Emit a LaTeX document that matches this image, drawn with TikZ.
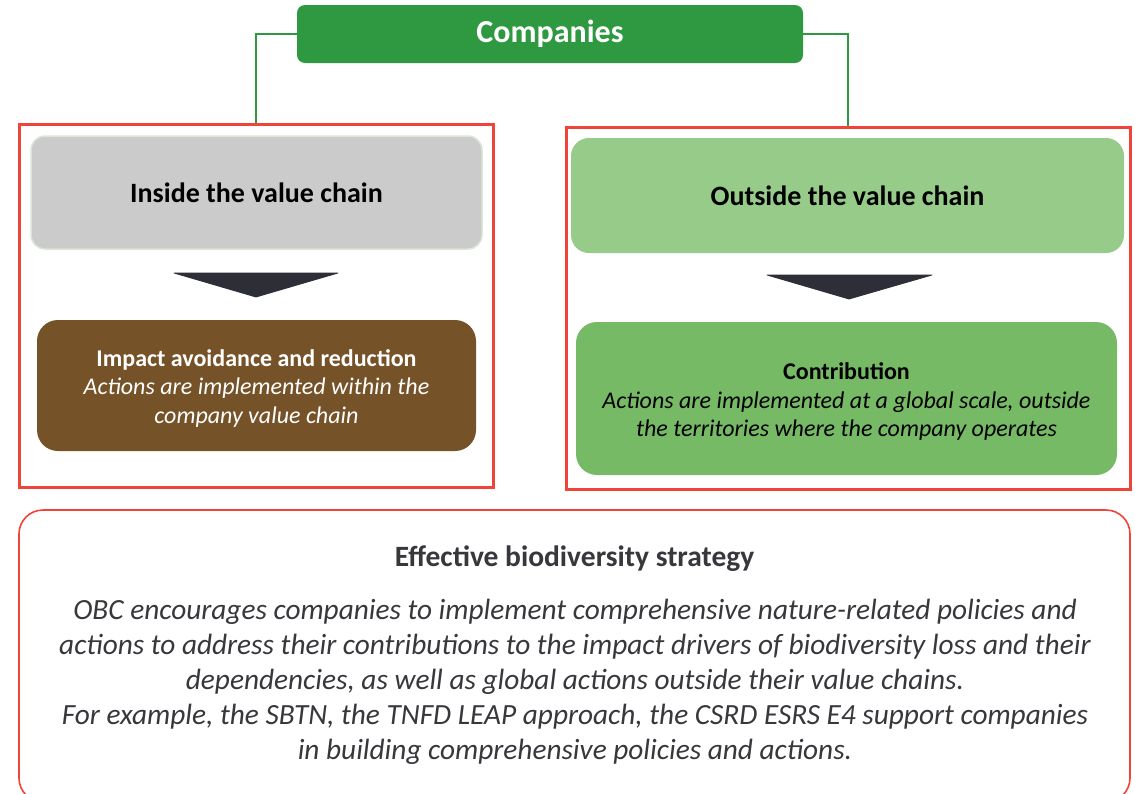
\documentclass[tikz,border=0pt]{standalone}
\usepackage{fontspec}
\setmainfont{Carlito}
\definecolor{compgreen}{RGB}{46,153,64}
\definecolor{framered}{RGB}{240,68,58}
\definecolor{insidegray}{RGB}{203,203,203}
\definecolor{insideedge}{RGB}{220,230,216}
\definecolor{brownbox}{RGB}{118,82,40}
\definecolor{lightgreen}{RGB}{150,203,138}
\definecolor{midgreen}{RGB}{118,186,102}
\definecolor{arrowdark}{RGB}{46,46,56}
\definecolor{bodytext}{RGB}{55,55,60}
\tikzset{
  panel/.style={rectangle, draw=framered, line width=3pt, inner sep=0pt},
  headbox/.style={rectangle, rounded corners=14pt, inner sep=0pt, align=center,
    font=\fontsize{28}{34}\selectfont\bfseries},
  actionbox/.style={rectangle, rounded corners=21pt, inner sep=0pt},
  actiontext/.style={inner sep=0pt, align=center, font=\fontsize{24}{28.5}\selectfont},
  link/.style={draw=compgreen, line width=1.3pt},
  downarrow/.style={fill=arrowdark, draw=arrowdark, line width=0.8pt, line join=round}
}
\begin{document}
\begin{tikzpicture}[x=1pt,y=-1pt]
\useasboundingbox (0,0) rectangle (1135,793);
\fill[white] (0,0) rectangle (1135,793);

% top node
\node[rectangle, rounded corners=8pt, fill=compgreen, minimum width=506pt, minimum height=58pt,
  inner sep=0pt, text=white, font=\fontsize{32}{38}\selectfont\bfseries] (comp) at (550,34) {Companies};

% the two red panels
\node[panel, minimum width=474pt, minimum height=363pt] (leftpanel) at (256,305.5) {};
\node[panel, minimum width=564pt, minimum height=362pt] (rightpanel) at (848,308) {};

% connectors from the top node
\draw[link] (comp.west) -| (leftpanel.north);
\draw[link] (comp.east) -| (rightpanel.north);

% left column
\node[headbox, fill=insidegray, draw=insideedge, line width=1.5pt,
  minimum width=451pt, minimum height=113pt] (inside) at (256.5,192.5) {Inside the value chain};
\node[actionbox, fill=brownbox, minimum width=439pt, minimum height=131pt] (avoid) at (256.5,385.5) {};
\node[actiontext, text=white] (avoidtext) at (256.5,388)
  {\textbf{Impact avoidance and reduction}\\
   \textit{Actions are implemented within the}\\
   \textit{company value chain}};

% right column
\node[headbox, fill=lightgreen, rounded corners=18pt,
  minimum width=553pt, minimum height=115pt] (outside) at (847.5,195.5) {Outside the value chain};
\node[actionbox, fill=midgreen, minimum width=541pt, minimum height=153pt] (contrib) at (846.5,398.5) {};
\node[actiontext, text=black] (contribtext) at (846.5,401.5)
  {\textbf{Contribution}\\
   \textit{Actions are implemented at a global scale, outside}\\
   \textit{the territories where the company operates}};

% down arrows between the boxes
\coordinate (la1) at (174,273);
\coordinate (la2) at (338,273);
\coordinate (la3) at (256,297);
\filldraw[downarrow] (la1) -- (la2) -- (la3) -- cycle;
\coordinate (ra1) at (767,275);
\coordinate (ra2) at (932,275);
\coordinate (ra3) at (849,299);
\filldraw[downarrow] (ra1) -- (ra2) -- (ra3) -- cycle;

% strategy box, running past the lower edge
\begin{scope}
\clip (0,0) rectangle (1135,793);
\node[rectangle, rounded corners=24pt, draw=framered, line width=1.6pt, inner sep=0pt,
  minimum width=1111pt, minimum height=292pt] (strategy) at (574.5,656) {};
\end{scope}
\node[text=bodytext, font=\fontsize{29.5}{35}\selectfont\bfseries, inner sep=0pt]
  (stitle) at (574.5,559) {Effective biodiversity strategy};
\node[text=bodytext, font=\fontsize{29.3}{35}\selectfont\itshape, align=center, inner sep=0pt]
  (sbody) at (575,682)
  {OBC encourages companies to implement comprehensive nature-related policies and\\
   actions to address their contributions to the impact drivers of biodiversity loss and their\\
   dependencies, as well as global actions outside their value chains.\\
   For example, the SBTN, the TNFD LEAP approach, the CSRD ESRS E4 support companies\\
   in building comprehensive policies and actions.};
\end{tikzpicture}
\end{document}
